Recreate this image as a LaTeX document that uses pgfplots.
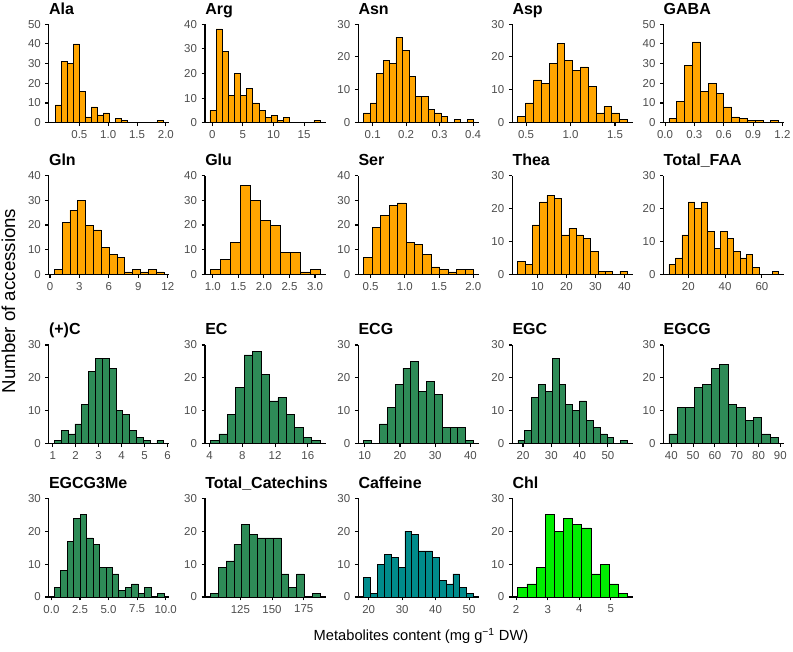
\documentclass[border=0pt]{standalone}
\usepackage{fontspec}
\setmainfont{Liberation Sans}
\usepackage{pgfplots}
\pgfplotsset{compat=1.18}
\definecolor{aa}{HTML}{FFA500}
\definecolor{cat}{HTML}{2E8B57}
\definecolor{caf}{HTML}{008B8B}
\definecolor{chl}{HTML}{00EE00}
\definecolor{tl}{HTML}{4D4D4D}
\pgfplotsset{
  hist/.style={
    scale only axis, width=90.4pt, height=74pt,
    anchor=south west, clip=false,
    axis x line*=bottom, axis y line*=left,
    axis line style={line width=0.8pt, black},
    every tick/.style={line width=0.8pt, black},
    tick align=outside, major tick length=2.5pt,
    ymin=0,
    ticklabel style={font=\fontsize{8.6}{10}\selectfont, text=tl},
    /pgf/number format/assume math mode=true,
  },
  hb/.style={ybar interval, fill=#1, draw=black, line width=0.45pt},
}
\newcommand{\ptitle}[1]{\node[anchor=base west, inner sep=0pt, font=\bfseries\fontsize{12}{14}\selectfont, yshift=7.5pt] at (rel axis cs:0,1) {#1};}
\begin{document}
\begin{tikzpicture}
\useasboundingbox (0,0) rectangle (594.75pt,488.25pt);
% ---------------- Row 1 ----------------
\begin{axis}[hist, at={(36.6pt,396.2pt)}, xmin=-0.03, xmax=2.06, ymax=50, ytick={0,10,20,30,40,50}, xtick={0.5,1,1.5,2}, xticklabels={0.5,1.0,1.5,2.0}]
\addplot[hb=aa] table[row sep=\\, header=false, y index=0, x expr={0.082+\coordindex*0.104}] {9\\31\\30\\40\\16\\3\\8\\4\\5\\0\\2\\1\\0\\0\\0\\0\\0\\1\\0\\};
\ptitle{Ala}
\end{axis}
\begin{axis}[hist, at={(153.75pt,396.2pt)}, xmin=-1.2, xmax=18.5, ymax=40, ytick={0,10,20,30,40}, xtick={0,5,10,15}, xticklabels={0,5,10,15}]
\addplot[hb=aa] table[row sep=\\, header=false, y index=0, x expr={-0.4+\coordindex*1.0}] {5\\38\\29\\11\\20\\11\\14\\8\\5\\2\\3\\1\\2\\0\\0\\0\\0\\1\\0\\};
\ptitle{Arg}
\end{axis}
\begin{axis}[hist, at={(268.7pt,396.2pt)}, xmin=0.057, xmax=0.417, ymax=30, ytick={0,10,20,30}, xtick={0.1,0.2,0.3,0.4}, xticklabels={0.1,0.2,0.3,0.4}]
\addplot[hb=aa] table[row sep=\\, header=false, y index=0, x expr={0.073+\coordindex*0.0193}] {3\\6\\15\\19\\18\\26\\22\\14\\8\\8\\4\\3\\2\\0\\1\\0\\1\\0\\};
\ptitle{Asn}
\end{axis}
\begin{axis}[hist, at={(384.2pt,396.2pt)}, xmin=0.345, xmax=1.70, ymax=30, ytick={0,10,20,30}, xtick={0.5,1,1.5}, xticklabels={0.5,1.0,1.5}]
\addplot[hb=aa] table[row sep=\\, header=false, y index=0, x expr={0.407+\coordindex*0.088}] {2\\6\\13\\12\\18\\24\\19\\16\\17\\11\\3\\5\\3\\1\\0\\};
\ptitle{Asp}
\end{axis}
\begin{axis}[hist, at={(497.6pt,396.2pt)}, xmin=-0.016, xmax=1.216, ymax=50, ytick={0,10,20,30,40,50}, xtick={0,0.3,0.6,0.9,1.2}, xticklabels={0.0,0.3,0.6,0.9,1.2}]
\addplot[hb=aa] table[row sep=\\, header=false, y index=0, x expr={0.04+\coordindex*0.08}] {2\\11\\29\\41\\16\\20\\15\\8\\3\\2\\1\\1\\0\\1\\0\\};
\ptitle{GABA}
\end{axis}
% ---------------- Row 2 ----------------
\begin{axis}[hist, at={(36.6pt,282.5pt)}, xmin=-0.12, xmax=12.16, ymax=40, ytick={0,10,20,30,40}, xtick={0,3,6,9,12}, xticklabels={0,3,6,9,12}]
\addplot[hb=aa] table[row sep=\\, header=false, y index=0, x expr={0.44+\coordindex*0.797}] {2\\21\\26\\30\\20\\18\\11\\8\\7\\1\\2\\1\\2\\1\\0\\};
\ptitle{Gln}
\end{axis}
\begin{axis}[hist, at={(153.75pt,282.5pt)}, xmin=0.846, xmax=3.206, ymax=40, ytick={0,10,20,30,40}, xtick={1,1.5,2,2.5,3}, xticklabels={1.0,1.5,2.0,2.5,3.0}]
\addplot[hb=aa] table[row sep=\\, header=false, y index=0, x expr={0.953+\coordindex*0.195}] {2\\6\\13\\36\\30\\22\\20\\9\\9\\1\\2\\0\\};
\ptitle{Glu}
\end{axis}
\begin{axis}[hist, at={(268.7pt,282.5pt)}, xmin=0.32, xmax=2.08, ymax=40, ytick={0,10,20,30,40}, xtick={0.5,1,1.5,2}, xticklabels={0.5,1.0,1.5,2.0}]
\addplot[hb=aa] table[row sep=\\, header=false, y index=0, x expr={0.40+\coordindex*0.123}] {7\\19\\24\\28\\29\\13\\12\\8\\3\\2\\1\\2\\2\\0\\};
\ptitle{Ser}
\end{axis}
\begin{axis}[hist, at={(384.2pt,282.5pt)}, xmin=1.31, xmax=42.9, ymax=30, ytick={0,10,20,30}, xtick={10,20,30,40}, xticklabels={10,20,30,40}]
\addplot[hb=aa] table[row sep=\\, header=false, y index=0, x expr={3.2+\coordindex*2.52}] {4\\3\\15\\22\\24\\23\\12\\14\\12\\11\\7\\1\\1\\0\\1\\0\\};
\ptitle{Thea}
\end{axis}
\begin{axis}[hist, at={(497.6pt,282.5pt)}, xmin=6.5, xmax=72, ymax=30, ytick={0,10,20,30}, xtick={20,40,60}, xticklabels={20,40,60}]
\addplot[hb=aa] table[row sep=\\, header=false, y index=0, x expr={9.5+\coordindex*3.5}] {3\\5\\12\\22\\20\\22\\13\\8\\13\\11\\7\\5\\6\\2\\0\\0\\1\\0\\};
\ptitle{Total\_FAA}
\end{axis}
% ---------------- Row 3 ----------------
\begin{axis}[hist, at={(36.6pt,155.5pt)}, xmin=0.83, xmax=6.08, ymax=30, ytick={0,10,20,30}, xtick={1,2,3,4,5,6}, xticklabels={1,2,3,4,5,6}]
\addplot[hb=cat] table[row sep=\\, header=false, y index=0, x expr={1.07+\coordindex*0.298}] {1\\4\\3\\6\\12\\22\\26\\26\\23\\10\\9\\4\\2\\1\\0\\1\\0\\};
\ptitle{(+)C}
\end{axis}
\begin{axis}[hist, at={(153.75pt,155.5pt)}, xmin=3.43, xmax=18.17, ymax=30, ytick={0,10,20,30}, xtick={4,8,12,16}, xticklabels={4,8,12,16}]
\addplot[hb=cat] table[row sep=\\, header=false, y index=0, x expr={4.1+\coordindex*1.03}] {1\\3\\9\\17\\27\\28\\21\\13\\14\\9\\5\\2\\1\\0\\};
\ptitle{EC}
\end{axis}
\begin{axis}[hist, at={(268.7pt,155.5pt)}, xmin=8.17, xmax=42.36, ymax=30, ytick={0,10,20,30}, xtick={10,20,30,40}, xticklabels={10,20,30,40}]
\addplot[hb=cat] table[row sep=\\, header=false, y index=0, x expr={9.72+\coordindex*2.22}] {1\\0\\6\\11\\18\\23\\25\\16\\19\\15\\5\\5\\5\\1\\0\\};
\ptitle{ECG}
\end{axis}
\begin{axis}[hist, at={(384.2pt,155.5pt)}, xmin=16.2, xmax=58.8, ymax=30, ytick={0,10,20,30}, xtick={20,30,40,50}, xticklabels={20,30,40,50}]
\addplot[hb=cat] table[row sep=\\, header=false, y index=0, x expr={18.17+\coordindex*2.42}] {1\\4\\14\\18\\16\\26\\18\\12\\10\\13\\7\\5\\3\\2\\0\\1\\0\\};
\ptitle{EGC}
\end{axis}
\begin{axis}[hist, at={(497.6pt,155.5pt)}, xmin=36.4, xmax=91.7, ymax=30, ytick={0,10,20,30}, xtick={40,50,60,70,80,90}, xticklabels={40,50,60,70,80,90}]
\addplot[hb=cat] table[row sep=\\, header=false, y index=0, x expr={38.9+\coordindex*3.87}] {3\\11\\11\\17\\18\\23\\24\\12\\11\\7\\8\\3\\2\\0\\};
\ptitle{EGCG}
\end{axis}
% ---------------- Row 4 ----------------
\begin{axis}[hist, at={(36.6pt,40.5pt)}, xmin=-0.23, xmax=10.32, ymax=30, ytick={0,10,20,30}, xtick={0,2.5,5,7.5,10}, xticklabels={0.0,2.5,5.0,7.5,10.0}]
\addplot[hb=cat] table[row sep=\\, header=false, y index=0, x expr={0.25+\coordindex*0.564}] {3\\8\\17\\24\\25\\18\\16\\9\\9\\7\\2\\3\\4\\1\\3\\0\\1\\0\\};
\ptitle{EGCG3Me}
\end{axis}
\begin{axis}[hist, at={(153.75pt,40.5pt)}, xmin=97.1, xmax=192.2, ymax=30, ytick={0,10,20,30}, xtick={125,150,175}, xticklabels={125,150,175}]
\addplot[hb=cat] table[row sep=\\, header=false, y index=0, x expr={101.4+\coordindex*6.18}] {1\\9\\11\\16\\22\\19\\18\\18\\18\\7\\3\\7\\0\\1\\0\\};
\ptitle{Total\_Catechins}
\end{axis}
\begin{axis}[hist, at={(268.7pt,40.5pt)}, xmin=16.9, xmax=52.9, ymax=30, ytick={0,10,20,30}, xtick={20,30,40,50}, xticklabels={20,30,40,50}]
\addplot[hb=caf] table[row sep=\\, header=false, y index=0, x expr={18.5+\coordindex*2.05}] {6\\1\\10\\13\\12\\9\\20\\19\\14\\14\\12\\5\\4\\7\\3\\1\\0\\};
\ptitle{Caffeine}
\end{axis}
\begin{axis}[hist, at={(384.2pt,40.5pt)}, xmin=1.876, xmax=5.70, ymax=30, ytick={0,10,20,30}, xtick={2,3,4,5}, xticklabels={2,3,4,5}]
\addplot[hb=chl] table[row sep=\\, header=false, y index=0, x expr={2.05+\coordindex*0.29}] {3\\4\\9\\25\\20\\24\\22\\21\\7\\10\\4\\1\\0\\};
\ptitle{Chl}
\end{axis}
% ---------------- Axis titles ----------------
\node[font=\fontsize{11}{13}\selectfont] at (315.75pt,11.25pt) {Metabolites content (mg g\textsuperscript{−1} DW)};
\node[rotate=90, font=\fontsize{14}{17}\selectfont] at (6.3pt,262.5pt) {Number of accessions};
\end{tikzpicture}
\end{document}
